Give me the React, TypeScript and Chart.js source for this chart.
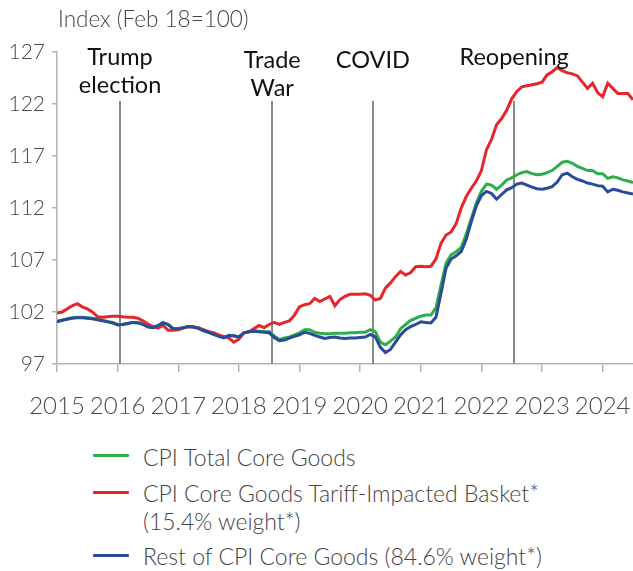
import React, { useEffect, useRef } from "react";
import { Chart, registerables } from "chart.js";

Chart.register(...registerables);

// Monthly series, Jan 2015 .. Jul 2024 (Index, Feb 2018 = 100)
const START_YEAR = 2015;

const totalCore = [
  101.1, 101.2, 101.35, 101.45, 101.5, 101.5, 101.45, 101.4, 101.3, 101.2, 101.1, 101.0,
  100.8, 100.8, 100.9, 101.0, 101.0, 100.85, 100.6, 100.5, 100.7, 101.0, 100.8, 100.4,
  100.4, 100.5, 100.6, 100.55, 100.4, 100.2, 100.05, 99.85, 99.7, 99.55, 99.7, 99.75,
  99.6, 100.0, 100.1, 100.2, 100.15, 100.1, 100.1, 99.7, 99.35, 99.5, 99.6, 99.8,
  100.0, 100.3, 100.3, 100.05, 99.95, 99.9, 99.9, 99.95, 99.95, 99.95, 100.0, 100.0,
  100.05, 100.05, 100.3, 100.1, 99.1, 98.85, 99.2, 99.6, 100.4, 100.8, 101.2, 101.4,
  101.6, 101.7, 101.7, 102.4, 104.6, 106.7, 107.5, 107.8, 108.2, 109.5, 111.0, 112.5,
  113.6, 114.3, 114.2, 113.8, 114.2, 114.7, 114.9, 115.2, 115.4, 115.5, 115.3, 115.2,
  115.25, 115.4, 115.6, 116.0, 116.4, 116.5, 116.3, 116.0, 115.8, 115.6, 115.6, 115.3,
  115.3, 114.85, 115.0, 114.9, 114.7, 114.6, 114.45,
];

const tariffBasket = [
  101.9, 102.0, 102.3, 102.6, 102.8, 102.5, 102.3, 102.0, 101.55, 101.5, 101.55, 101.6,
  101.6, 101.55, 101.5, 101.5, 101.4, 101.15, 100.85, 100.6, 100.45, 100.7, 100.25, 100.25,
  100.3, 100.45, 100.6, 100.55, 100.5, 100.3, 100.1, 100.0, 99.8, 99.65, 99.5, 99.1,
  99.4, 100.0, 100.1, 100.4, 100.7, 100.5, 100.8, 101.0, 100.8, 101.0, 101.15, 101.7,
  102.5, 102.7, 102.8, 103.3, 103.0, 103.25, 103.5, 102.6, 103.2, 103.5, 103.7, 103.7,
  103.7, 103.75, 103.6, 103.15, 103.3, 104.3, 104.8, 105.4, 105.9, 105.55, 105.8, 106.35,
  106.4, 106.35, 106.4, 107.1, 108.6, 109.4, 109.7, 110.5, 112.0, 113.1, 113.9, 114.6,
  115.6, 117.6, 118.6, 120.0, 120.6, 121.4, 122.5, 123.2, 123.65, 123.75, 123.85, 123.95,
  124.1, 124.8, 125.1, 125.5, 125.2, 125.0, 124.9, 124.7, 124.1, 123.5, 124.0, 123.1,
  122.7, 124.0, 123.5, 123.0, 123.0, 123.0, 122.4,
];

const restCore = [
  101.05, 101.2, 101.3, 101.4, 101.45, 101.45, 101.4, 101.35, 101.25, 101.15, 101.05, 100.95,
  100.75, 100.8, 100.9, 101.0, 100.95, 100.8, 100.55, 100.5, 100.7, 100.95, 100.8, 100.4,
  100.4, 100.5, 100.6, 100.55, 100.45, 100.2, 100.05, 99.85, 99.65, 99.5, 99.75, 99.7,
  99.6, 100.0, 100.1, 100.15, 100.1, 100.05, 100.0, 99.55, 99.25, 99.3, 99.5, 99.65,
  99.8, 100.05, 99.95, 99.75, 99.6, 99.45, 99.55, 99.6, 99.5, 99.45, 99.5, 99.5,
  99.55, 99.6, 99.85, 99.6, 98.6, 98.1, 98.4, 99.1, 99.8, 100.3, 100.6, 100.8,
  101.05, 101.0, 100.95, 101.5, 103.8, 106.2, 107.1, 107.4, 107.8, 109.0, 110.7, 112.2,
  113.2, 113.6, 113.4, 112.85, 113.3, 113.75, 113.95, 114.3, 114.4, 114.2, 114.0, 113.85,
  113.8, 113.9, 114.05, 114.5, 115.2, 115.35, 115.0, 114.75, 114.6, 114.4, 114.3, 114.15,
  114.1, 113.55, 113.8, 113.7, 113.55, 113.45, 113.35,
];

const seriesNames = [
  "CPI Total Core Goods",
  "CPI Core Goods Tariff-Impacted Basket*\n(15.4% weight*)",
  "Rest of CPI Core Goods (84.6% weight*)",
];
const seriesColors = ["#2dae4a", "#e5262b", "#2a4b9b"];

const xTicks = [2015, 2016, 2017, 2018, 2019, 2020, 2021, 2022, 2023, 2024];
const yTicks = [97, 102, 107, 112, 117, 122, 127];

const eventDates = [2016.04, 2018.55, 2020.21, 2022.54];
const eventLabels = [["Trump", "election"], ["Trade", "War"], ["COVID"], ["Reopening"]];
const eventLineTop = 122.3;

const yAxisTitle = "Index (Feb 18=100)";

function toPoints(values: number[]) {
  return values.map((v, i) => ({ x: START_YEAR + i / 12, y: v }));
}

const eventPlugin = {
  id: "events",
  beforeDatasetsDraw(chart: any) {
    const { ctx, scales } = chart;
    const yTop = scales.y.getPixelForValue(eventLineTop);
    const yBot = scales.y.getPixelForValue(97);
    ctx.save();
    ctx.strokeStyle = "#8a8a8a";
    ctx.lineWidth = 2;
    eventDates.forEach((d) => {
      const x = Math.round(scales.x.getPixelForValue(d));
      ctx.beginPath();
      ctx.moveTo(x, yTop);
      ctx.lineTo(x, yBot);
      ctx.stroke();
    });
    ctx.restore();
  },
  afterDatasetsDraw(chart: any, _args: any, opts: any) {
    const { ctx, scales } = chart;
    ctx.save();
    ctx.fillStyle = "#111";
    ctx.font = "400 23.5px Lato";
    ctx.textAlign = "center";
    ctx.textBaseline = "middle";
    eventDates.forEach((d, i) => {
      const x = scales.x.getPixelForValue(d);
      const y0 = opts.firstLineY[i];
      eventLabels[i].forEach((t, j) => ctx.fillText(t, x, y0 + j * 28));
    });
    ctx.restore();
  },
};

export default function App() {
  const ref = useRef<HTMLCanvasElement>(null);

  useEffect(() => {
    const data = [
      { label: seriesNames[2], values: restCore, color: seriesColors[2] },
      { label: seriesNames[1], values: tariffBasket, color: seriesColors[1] },
      { label: seriesNames[0], values: totalCore, color: seriesColors[0] },
    ];
    const chart = new Chart(ref.current as HTMLCanvasElement, {
      type: "line",
      data: {
        datasets: data.map((d) => ({
          label: d.label,
          data: toPoints(d.values),
          borderColor: d.color,
          backgroundColor: d.color,
          borderWidth: 3,
          pointRadius: 0,
          tension: 0,
          fill: false,
        })),
      },
      options: {
        animation: false,
        responsive: false,
        devicePixelRatio: 1,
        layout: { padding: { top: 52, left: 0, right: 0, bottom: 0 } },
        plugins: {
          legend: { display: false },
          tooltip: { enabled: false },
          events: { firstLineY: [57, 60, 60, 57] },
        } as any,
        scales: {
          x: {
            type: "linear",
            min: 2015,
            max: 2024.5,
            afterBuildTicks: (s: any) => {
              s.ticks = xTicks.map((v) => ({ value: v }));
            },
            afterFit: (s: any) => {
              s.height = 66;
              s.paddingLeft = 0;
              s.paddingRight = 0;
            },
            grid: { drawOnChartArea: false, tickLength: 8, color: "#b3b3b3", lineWidth: 1.5 },
            border: { color: "#b3b3b3", width: 1.5 },
            ticks: {
              padding: 20,
              maxRotation: 0,
              autoSkip: false,
              color: "#4a4a4a",
              font: { family: "Lato", weight: "300", size: 24 },
              callback: (v: any) => String(v),
            },
          },
          y: {
            type: "linear",
            min: 97,
            max: 127,
            afterBuildTicks: (s: any) => {
              s.ticks = yTicks.map((v) => ({ value: v }));
            },
            afterFit: (s: any) => {
              s.width = 57;
              s.paddingTop = 0;
              s.paddingBottom = 0;
            },
            grid: { drawOnChartArea: false, tickLength: 5, color: "#b3b3b3", lineWidth: 1.5 },
            border: { color: "#b3b3b3", width: 1.5 },
            ticks: {
              padding: 7,
              color: "#4a4a4a",
              font: { family: "Lato", weight: "300", size: 21 },
              callback: (v: any) => String(v),
            },
          },
        },
      },
      plugins: [eventPlugin],
    });
    return () => chart.destroy();
  }, []);

  const legendTops = [443, 479, 542];
  const legendLineTops = [454, 491, 554];
  const order = [0, 1, 2];

  return (
    <div
      style={{
        position: "absolute",
        left: 0,
        top: 0,
        width: 633,
        height: 571,
        background: "#fff",
        fontFamily: "Lato",
        color: "#444",
      }}
    >
      <canvas ref={ref} width={633} height={430} style={{ display: "block" }} />
      <div
        style={{
          position: "absolute",
          left: 58,
          top: 5,
          fontSize: 22.5,
          fontWeight: 300,
          lineHeight: "28px",
          whiteSpace: "nowrap",
        }}
      >
        {yAxisTitle}
      </div>
      {order.map((i) => (
        <React.Fragment key={i}>
          <div
            style={{
              position: "absolute",
              left: 93,
              top: legendLineTops[i],
              width: 36,
              height: 3,
              background: seriesColors[i],
              borderRadius: 1,
            }}
          />
          <div
            style={{
              position: "absolute",
              left: 143,
              top: legendTops[i],
              fontSize: 23,
              fontWeight: 300,
              lineHeight: "28px",
              whiteSpace: "pre",
            }}
          >
            {seriesNames[i]}
          </div>
        </React.Fragment>
      ))}
    </div>
  );
}
